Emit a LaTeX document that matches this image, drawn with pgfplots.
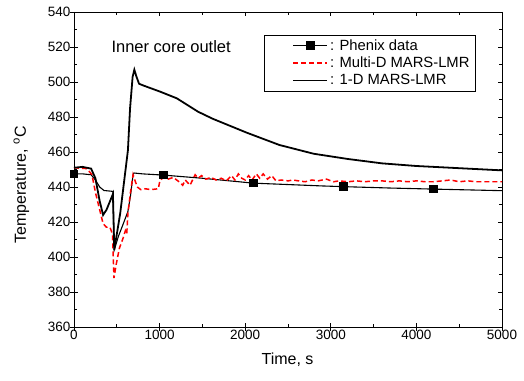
\documentclass[border=0pt]{standalone}
\usepackage{fontspec}
\setmainfont{Liberation Sans}
\usepackage{pgfplots}
\pgfplotsset{compat=1.18}
\pgfplotsset{
  phenixlegend/.style={legend image code/.code={\path (-24bp,0); \draw[black, solid, line width=1.1pt] (0bp,0) -- (34bp,0); \fill[black] (13bp,-3.8bp) rectangle (21bp,3.8bp);}},
  multilegend/.style={legend image code/.code={\path (-24bp,0); \draw[red, line width=1.5pt, dash pattern=on 5bp off 3bp] (0bp,0) -- (34bp,0);}},
  onedlegend/.style={legend image code/.code={\path (-24bp,0); \draw[black, solid, line width=1.8pt] (0bp,0) -- (34bp,0);}},
}
\begin{document}
\begin{tikzpicture}
\begin{axis}[
  scale only axis,
  width=428bp, height=315bp,
  xmin=0, xmax=5000, ymin=360, ymax=540,
  xtick={0,1000,...,5000}, ytick={360,380,...,540},
  minor x tick num=1, minor y tick num=1,
  tick align=inside,
  major tick length=4bp, minor tick length=3bp,
  extra x ticks={0,1000,...,5000}, extra x tick labels={},
  extra y ticks={360,380,...,540}, extra y tick labels={},
  extra x tick style={tick align=outside, major tick length=4bp, tick pos=bottom},
  extra y tick style={tick align=outside, major tick length=4bp, tick pos=left},
  tick style={black, line width=0.8pt},
  axis line style={line width=0.8pt},
  scaled ticks=false,
  /pgf/number format/assume math mode=true,
  xticklabel style={/pgf/number format/set thousands separator={}},
  ticklabel style={font=\fontsize{13.5bp}{15bp}\selectfont},
  xlabel={Time, s},
  ylabel={Temperature, \textsuperscript{o}C},
  label style={font=\fontsize{16bp}{18bp}\selectfont},
  xlabel style={at={(axis description cs:0.499,0)}, anchor=center, yshift=-33bp},
  ylabel style={at={(axis description cs:-0.123,0.451)}, anchor=center},
  legend style={at={(rel axis cs:0.444,0.927)}, anchor=north west,
    font=\fontsize{14.8bp}{16bp}\selectfont, draw=black,
    inner xsep=4bp, inner ysep=2.5bp, row sep=1.2bp, cells={anchor=west}},
  legend cell align=left,
]
% Phenix data
\addplot[black, line width=1.1pt, mark=square*, mark size=3.8bp, mark options={solid},
  mark indices={1,16,18,21,23}, phenixlegend]
coordinates {
(0,447.5) (100,447.5) (200,447) (250,444) (300,440) (350,438) (455,437.5)
(470,404) (520,412) (560,417) (630,426) (660,435) (690,447) (700,448) (800,447.5)
(1045,446.8) (1500,445) (2095,442.2) (2600,441.2) (2900,440.6) (3148,440.2) (3700,439.4)
(4198,438.8) (5000,437.9)
};
\addlegendentry{: Phenix data}
% Multi-D
\addplot[red, line width=1.5pt, dash pattern=on 5bp off 3bp, multilegend]
coordinates {
(0,451) (150,450.5) (210,447) (250,437) (300,427) (340,419) (380,417) (420,417)
(450,413) (467,388) (490,395) (530,405) (575,411) (600,415) (616,413) (630,425)
(660,437) (690,447) (710,444) (740,440) (780,438.5) (830,439) (900,438.5) (985,439)
(1005,444) (1050,445.5) (1100,444.5) (1160,445.5) (1240,442.5) (1270,441) (1300,444)
(1355,441) (1415,447) (1450,445) (1490,446.5) (1540,444.5) (1600,445.5) (1660,444)
(1720,445) (1780,443.5) (1840,446.5) (1880,444) (1920,447.5) (1960,445) (2000,444)
(2040,446.5) (2080,444) (2130,447.5) (2170,445) (2210,447.5) (2260,444.5) (2310,446.5)
(2360,443.5) (2420,444) (2500,443.5) (2560,444) (2620,443.5) (2700,443) (2780,444)
(2850,443.5) (2950,444.5) (3030,443) (3100,443.5) (3200,443) (3300,443.5) (3400,443)
(3500,443.5) (3600,443.5) (3700,443) (3800,443.5) (3900,443) (4000,443.5) (4100,443)
(4200,443) (4300,443.5) (4400,444) (4500,443) (4600,443.5) (4700,443) (4800,443)
(4900,443) (5000,443)
};
\addlegendentry{: Multi-D MARS-LMR}
% 1-D
\addplot[black, line width=1.8pt, onedlegend]
coordinates {
(0,451) (100,451.5) (200,450.5) (250,445) (300,432) (340,424) (380,427) (455,436)
(470,404) (540,425) (630,461) (655,485) (685,503) (705,507) (730,503) (760,499)
(810,498) (1005,494.5) (1200,490.7) (1450,483) (1620,479) (2020,471) (2400,464)
(2800,459) (3200,456) (3600,453.5) (4000,452) (4400,451) (5000,449.5)
};
\addlegendentry{: 1-D MARS-LMR}
\node[font=\fontsize{16.5bp}{18bp}\selectfont] at (rel axis cs:0.227,0.889) {Inner core outlet};
\end{axis}
\pgfresetboundingbox
\path (current axis.south west) ++(-74bp,-54bp) rectangle ++(524bp,381bp);
\end{tikzpicture}
\end{document}
